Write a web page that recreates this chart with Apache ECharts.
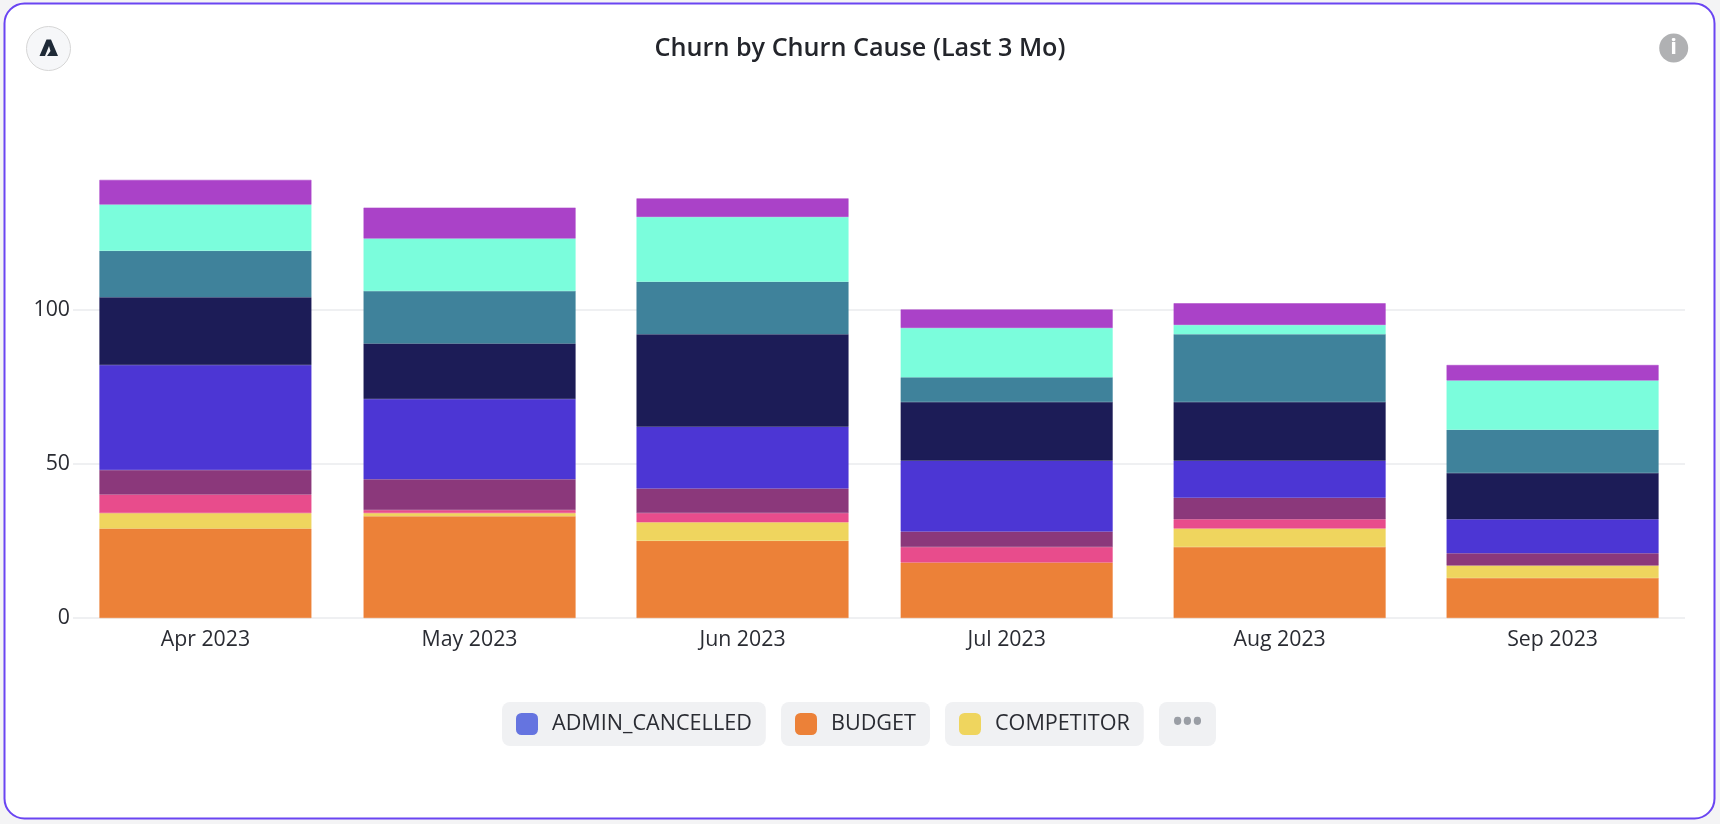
<!DOCTYPE html>
<html><head><meta charset="utf-8">
<style>html,body{margin:0;padding:0;background:#f4f4f5;overflow:hidden}
#c{width:1720px;height:824px}</style>
<script src="https://cdn.jsdelivr.net/npm/echarts@6/dist/echarts.min.js"></script>
</head><body><div id="c"></div>
<script>
const months = ['2023-04-01','2023-05-01','2023-06-01','2023-07-01','2023-08-01','2023-09-01'];
const yTicks = [0,50,100];
const admin      = [null,null,null,null,null,null];
const budget     = [29,33,25,18,23,13];
const competitor = [5,1,6,null,6,4];
const pink       = [6,1,3,5,3,null];
const maroon     = [8,10,8,5,7,4];
const indigo     = [34,26,20,23,12,11];
const navy       = [22,18,30,19,19,15];
const teal       = [15,17,17,8,22,14];
const aqua       = [15,17,21,16,3,16];
const violet     = [8,10,6,6,7,5];
const names  = ['ADMIN_CANCELLED','BUDGET','COMPETITOR','CONTRACT','FEATURES','MERGER','NON_PAYMENT','PRODUCT','SUPPORT','OTHER'];
const colors = ['#6574E0','#EC8138','#EFD55E','#E84C8C','#8B387B','#4C36D4','#1C1C57','#3F829B','#7BFDDC','#AA42C8'];
const values = [admin,budget,competitor,pink,maroon,indigo,navy,teal,aqua,violet];
const ts = s => { const [y,m,d]=s.split('-').map(Number); return new Date(y,m-1,d).getTime(); };
const monthTs = months.map(ts);
const MON=['Jan','Feb','Mar','Apr','May','Jun','Jul','Aug','Sep','Oct','Nov','Dec'];
const font='"Open Sans"';
const chip=(i,left)=>({
  show:true,data:[names[i]],left:left,top:702,orient:'horizontal',
  backgroundColor:'#F0F1F3',borderRadius:8,padding:[11,14,11,14],
  itemWidth:22,itemHeight:22,itemGap:0,icon:'roundRect',selectedMode:false,
  textStyle:{fontFamily:font,fontSize:21.6,color:'#2a2c33',padding:[1,0,0,9]},
  itemStyle:{borderWidth:0}
});
const chart=echarts.init(document.getElementById('c'),null,{renderer:'canvas'});
chart.setOption({
  animation:false,
  backgroundColor:'transparent',
  title:{text:'Churn by Churn Cause (Last 3 Mo)',left:'center',top:31,
    textStyle:{fontFamily:font,fontSize:25.2,fontWeight:600,color:'#23252b'}},
  legend:[chip(0,502),chip(1,781),chip(2,945)],
  grid:{left:73,right:35,top:155.2,bottom:206},
  // ECharts widens a time axis by half a bar on each side, so the range is given inset by that much
  xAxis:{type:'time',min:ts('2023-03-29'),max:ts('2023-09-04'),
    axisLine:{show:false},axisTick:{show:false},splitLine:{show:false},
    axisLabel:{showMinLabel:false,showMaxLabel:false,hideOverlap:false,margin:11,fontFamily:font,fontSize:21.3,color:'#2a2c33',
      formatter:v=>{const d=new Date(v);return monthTs.includes(v)?MON[d.getMonth()]+' '+d.getFullYear():'';}}},
  yAxis:{type:'value',min:0,max:150,
    axisLine:{show:false},axisTick:{show:false,customValues:yTicks},
    splitLine:{lineStyle:{color:'#EFF0F2',width:2}},
    axisLabel:{customValues:yTicks,margin:3,fontFamily:font,fontSize:21.3,color:'#2a2c33'}},
  series:names.map((n,i)=>({name:n,type:'bar',stack:'t',barWidth:212,
    itemStyle:{color:colors[i],borderColor:colors[i],borderWidth:0.5},data:monthTs.map((t,j)=>[t,values[i][j]])})),
  graphic:[
    {type:'rect',z:-10,shape:{x:4.5,y:3.5,width:1710,height:815,r:20},style:{fill:'#fff',stroke:'#6A45F2',lineWidth:2}},
    {type:'circle',shape:{cx:48.5,cy:48.5,r:22},style:{fill:'#F6F7F9',stroke:'#D6D6D6',lineWidth:1}},
    {type:'polygon',shape:{points:[[39.5,56],[46.5,39.5],[51,39.5],[58,56],[47,56],[50.5,51],[49,46],[45,56]]},style:{fill:'#1F2A37'}},
    {type:'circle',shape:{cx:1673.7,cy:48,r:14.5},style:{fill:'#B0B1B3'}},
    {type:'text',style:{x:1673.7,y:48,text:'i',align:'center',verticalAlign:'middle',fontFamily:'"Open Sans"',fontWeight:'bold',fontSize:22,fill:'#fff'}},
    {type:'rect',shape:{x:1159,y:702,width:57,height:44,r:8},style:{fill:'#F0F1F3'}},
    {type:'text',style:{x:1187.5,y:724,text:'•••',align:'center',verticalAlign:'middle',fontFamily:font,fontSize:26,fontWeight:'bold',fill:'#9A9EA5'}}
  ]
});
</script></body></html>
